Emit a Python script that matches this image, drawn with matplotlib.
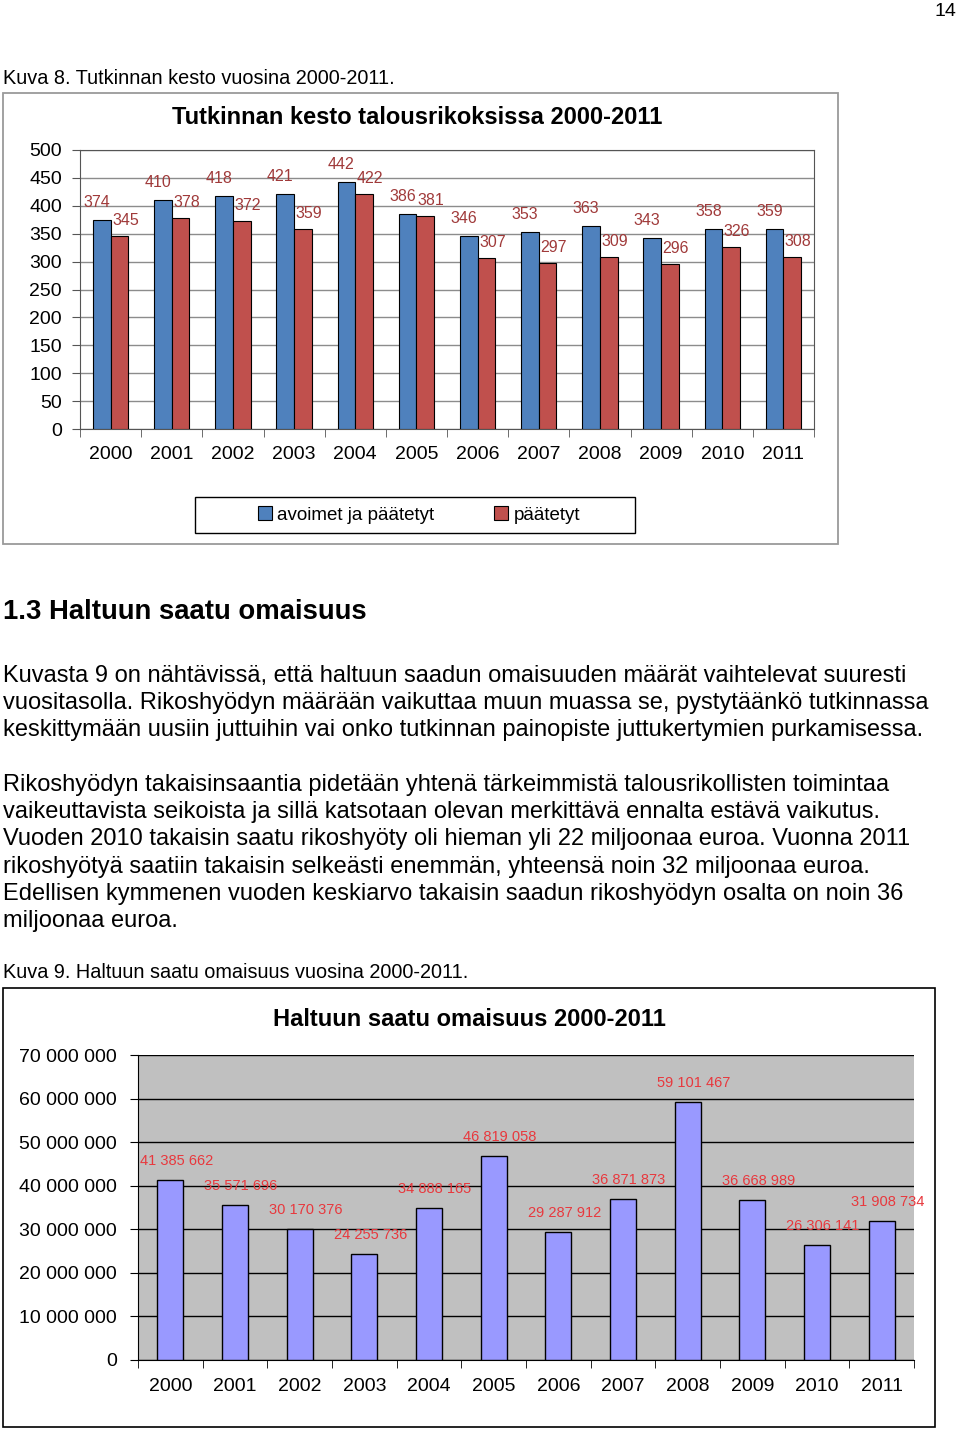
import numpy as np
import matplotlib
matplotlib.use('Agg')
import matplotlib.pyplot as plt
from matplotlib.patches import Rectangle

plt.rcParams['font.family'] = ['Liberation Sans', 'DejaVu Sans']

# data
years = ['2000', '2001', '2002', '2003', '2004', '2005',
         '2006', '2007', '2008', '2009', '2010', '2011']
avoimet = [374, 410, 418, 421, 442, 386, 346, 353, 363, 343, 358, 359]
paatetyt = [345, 378, 372, 359, 422, 381, 307, 297, 309, 296, 326, 308]
omaisuus = [41385662, 35571696, 30170376, 24255736, 34888165, 46819058,
            29287912, 36871873, 59101467, 36668989, 26306141, 31908734]

para1 = ["Kuvasta 9 on nähtävissä, että haltuun saadun omaisuuden määrät vaihtelevat suuresti",
         "vuositasolla. Rikoshyödyn määrään vaikuttaa muun muassa se, pystytäänkö tutkinnassa",
         "keskittymään uusiin juttuihin vai onko tutkinnan painopiste juttukertymien purkamisessa."]
para2 = ["Rikoshyödyn takaisinsaantia pidetään yhtenä tärkeimmistä talousrikollisten toimintaa",
         "vaikeuttavista seikoista ja sillä katsotaan olevan merkittävä ennalta estävä vaikutus.",
         "Vuoden 2010 takaisin saatu rikoshyöty oli hieman yli 22 miljoonaa euroa. Vuonna 2011",
         "rikoshyötyä saatiin takaisin selkeästi enemmän, yhteensä noin 32 miljoonaa euroa.",
         "Edellisen kymmenen vuoden keskiarvo takaisin saadun rikoshyödyn osalta on noin 36",
         "miljoonaa euroa."]

W, H = 960, 1432
fig = plt.figure(figsize=(W / 100, H / 100), dpi=100)


def fx(px):
    return px / W


def fy(py):
    return 1 - py / H


def box(x0, y0, x1, y1):
    return [fx(x0), fy(y1), fx(x1) - fx(x0), fy(y0) - fy(y1)]


def frame(x0, y0, x1, y1, color, lw=1.0):
    b = box(x0, y0, x1, y1)
    fig.add_artist(Rectangle((b[0], b[1]), b[2], b[3], transform=fig.transFigure,
                             fill=False, edgecolor=color, lw=lw))


# page text
fig.text(fx(945), fy(12), '14', ha='center', va='center', fontsize=14)
fig.text(fx(3), fy(78), 'Kuva 8. Tutkinnan kesto vuosina 2000-2011.', ha='left', va='center', fontsize=14.3)
fig.text(fx(3), fy(612), '1.3 Haltuun saatu omaisuus', ha='left', va='center', fontsize=19.8, weight='bold')
for i, line in enumerate(para1):
    fig.text(fx(3), fy(676 + i * 27.2), line, ha='left', va='center', fontsize=17)
for i, line in enumerate(para2):
    fig.text(fx(3), fy(785 + i * 27.2), line, ha='left', va='center', fontsize=17)
fig.text(fx(3), fy(973), 'Kuva 9. Haltuun saatu omaisuus vuosina 2000-2011.', ha='left', va='center', fontsize=14.3)

x = np.arange(len(years))

# ---- kuva 8 ----
frame(3, 93, 838, 544, '#9a9a9a', 1.3)
fig.text(fx(417), fy(118), 'Tutkinnan kesto talousrikoksissa 2000-2011', ha='center', va='center',
         fontsize=17, weight='bold')
ax1 = fig.add_axes(box(80, 150, 814, 429))
w = 0.29
b1 = ax1.bar(x - w / 2, avoimet, w, color='#4F81BD', edgecolor='black', lw=0.8,
             label='avoimet ja päätetyt', zorder=3)
b2 = ax1.bar(x + w / 2, paatetyt, w, color='#C0504D', edgecolor='black', lw=0.8,
             label='päätetyt', zorder=3)
for r, v in zip(b1, avoimet):
    ax1.annotate(str(v), (r.get_x() + r.get_width() / 2, v), xytext=(-5, 10), textcoords='offset pixels',
                 ha='center', va='bottom', fontsize=11.5, color='#A03A3A')
for r, v in zip(b2, paatetyt):
    ax1.annotate(str(v), (r.get_x() + r.get_width() / 2, v), xytext=(6, 8), textcoords='offset pixels',
                 ha='center', va='bottom', fontsize=11.5, color='#A03A3A')
ax1.set_xlim(-0.5, 11.5)
ax1.set_ylim(0, 500)
ax1.set_yticks(range(0, 501, 50))
ax1.yaxis.grid(True, color='#8c8c8c', lw=1)
ax1.set_axisbelow(True)
for s in ax1.spines.values():
    s.set_color('#555555')
ax1.set_xticks(x, years)
ax1.set_xticks(np.arange(-0.5, 12, 1), minor=True)
ax1.tick_params(axis='x', which='major', length=0, pad=12, labelsize=14)
ax1.tick_params(axis='x', which='minor', length=6, color='#555555')
ax1.tick_params(axis='y', length=6, pad=7, labelsize=14, color='#555555')

frame(195, 497, 635, 533, 'black', 1.0)
fig.legend(handles=[b1, b2], loc='center', bbox_to_anchor=(fx(419), fy(515)), ncol=2,
           frameon=False, fontsize=13.5, handlelength=0.75, handleheight=0.75,
           handletextpad=0.3, columnspacing=3.2)

# ---- kuva 9 ----
frame(3, 988, 935, 1427, 'black', 1.2)
fig.text(fx(469), fy(1020), 'Haltuun saatu omaisuus 2000-2011', ha='center', va='center',
         fontsize=17, weight='bold')
ax2 = fig.add_axes(box(138, 1055, 914, 1360))
ax2.set_facecolor('#C0C0C0')
bars = ax2.bar(x, omaisuus, 0.4, color='#9999FF', edgecolor='black', lw=1, zorder=3)
for r, v in zip(bars, omaisuus):
    ax2.annotate(f'{v:,}'.replace(',', ' '), (r.get_x() + r.get_width() / 2, v), xytext=(6, 12),
                 textcoords='offset pixels', ha='center', va='bottom', fontsize=10.5, color='#E8383D')
ax2.set_xlim(-0.5, 11.5)
ax2.set_ylim(0, 70000000)
ax2.set_yticks(range(0, 70000001, 10000000))
ax2.set_yticklabels([f'{v:,}'.replace(',', ' ') for v in range(0, 70000001, 10000000)])
ax2.yaxis.grid(True, color='black', lw=1)
ax2.set_axisbelow(True)
ax2.spines['top'].set_visible(False)
ax2.spines['right'].set_visible(False)
ax2.set_xticks(x, years)
ax2.set_xticks(np.arange(-0.5, 12, 1), minor=True)
ax2.tick_params(axis='x', which='major', length=0, pad=13, labelsize=14)
ax2.tick_params(axis='x', which='minor', length=6)
ax2.tick_params(axis='y', length=6, pad=9, labelsize=14)

plt.savefig('out.png', dpi=100)
